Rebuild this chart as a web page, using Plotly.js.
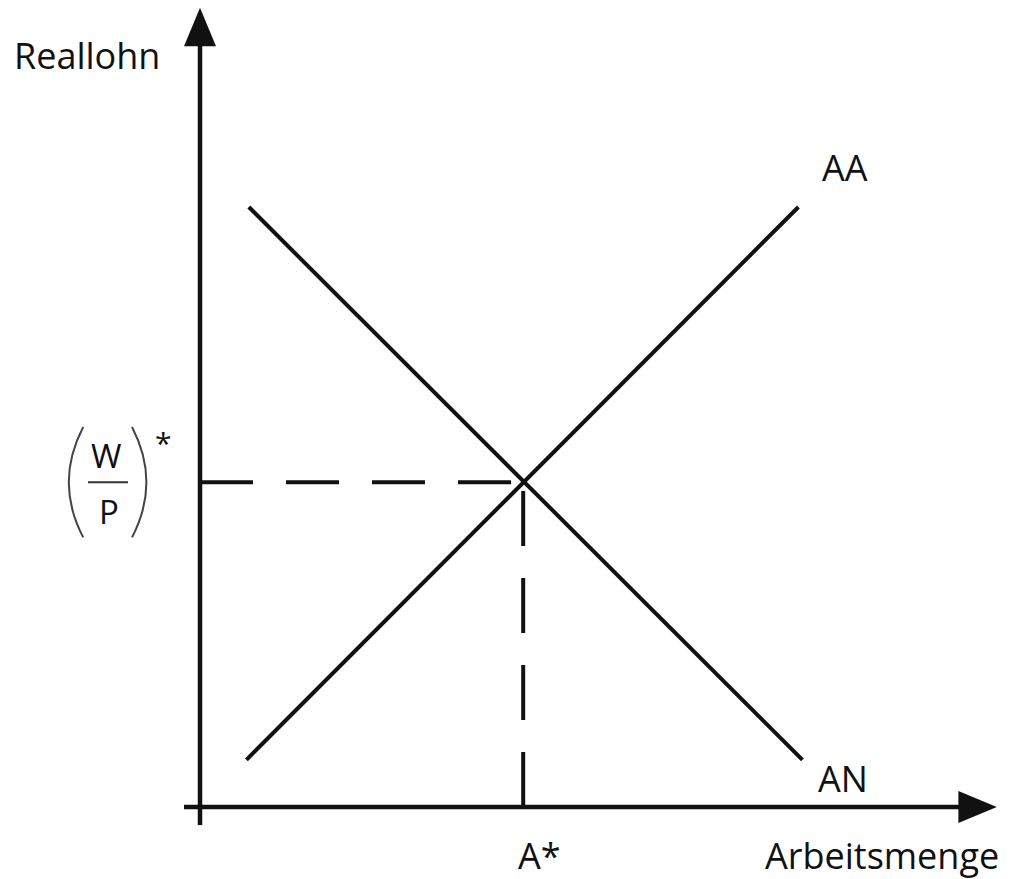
<!DOCTYPE html>
<html>
<head>
<meta charset="utf-8">
<script src="https://cdn.plot.ly/plotly-3.0.1.min.js"></script>
<style>html,body{margin:0;padding:0;background:#fff}</style>
</head>
<body>
<div id="plot" style="width:1011px;height:879px"></div>
<script>
// Arbeitsmarkt: Arbeitsangebot (AA) und Arbeitsnachfrage (AN)
const aaX = [0.58, 7.48];
const aaY = [0.59, 7.5];
const anX = [0.61, 7.53];
const anY = [7.5, 0.59];
const aStar = 4.04;   // Gleichgewichtsmenge A*
const wStar = 4.06;   // Gleichgewichtsreallohn (W/P)*
const xAxisEnd = 9.96;
const yAxisEnd = 9.99;
const axisStart = -0.2;

const ink = "#111";
const font = "Open Sans, sans-serif";

const curve = (x, y, w, dash) => ({
  x, y, type: "scatter", mode: "lines",
  line: {color: ink, width: w, dash: dash || "solid"},
  hoverinfo: "skip"
});

const traces = [
  curve([axisStart, xAxisEnd - 0.3], [0, 0], 4.5),
  curve([0, 0], [-0.225, yAxisEnd - 0.3], 4.5),
  curve(aaX, aaY, 4),
  curve(anX, anY, 4),
  curve([0, aStar], [wStar, wStar], 4, "53px,33px"),
  curve([aStar, aStar], [0, wStar], 4, "55px,32px")
];

// arrow heads + (W/P) bracket
const head = 0.48, half = 0.2;
const shapes = [
  {type: "path", path: `M${xAxisEnd},0 L${xAxisEnd - head},${half} L${xAxisEnd - head},${-half} Z`,
   fillcolor: ink, line: {width: 0}},
  {type: "path", path: `M0,${yAxisEnd} L${half},${yAxisEnd - head} L${-half},${yAxisEnd - head} Z`,
   fillcolor: ink, line: {width: 0}},
  {type: "line", x0: -1.4, x1: -0.9, y0: wStar, y1: wStar, line: {color: "#333", width: 2}},
  {type: "path", path: `M-1.46,${wStar + 0.69} Q-1.82,${wStar} -1.46,${wStar - 0.69}`,
   line: {color: "#444", width: 2}},
  {type: "path", path: `M-0.85,${wStar + 0.69} Q-0.49,${wStar} -0.85,${wStar - 0.69}`,
   line: {color: "#444", width: 2}}
];

const label = (text, x, y, size) => ({
  text, x, y, xref: "x", yref: "y", showarrow: false, borderpad: 0,
  font: {family: font, size: size || 36, color: ink}
});

const annotations = [
  label("Reallohn", -1.41, 9.4),
  label("AA", 8.06, 8.0),
  label("AN", 8.04, 0.36),
  label("A*", aStar + 0.2, -0.6),
  label("Arbeitsmenge", 8.52, -0.6),
  label("W", -1.175, wStar + 0.34, 33),
  label("P", -1.14, wStar - 0.37, 33),
  label("*", -0.46, wStar + 0.5, 30)
];

const layout = {
  width: 1011,
  height: 879,
  margin: {l: 0, r: 0, t: 0, b: 0},
  xaxis: {range: [-2.5, 10.1375], visible: false},
  yaxis: {range: [-0.9, 10.0875], visible: false},
  showlegend: false,
  paper_bgcolor: "#fff",
  plot_bgcolor: "#fff",
  shapes,
  annotations
};

Plotly.newPlot("plot", traces, layout, {displayModeBar: false, staticPlot: true});
</script>
</body>
</html>
